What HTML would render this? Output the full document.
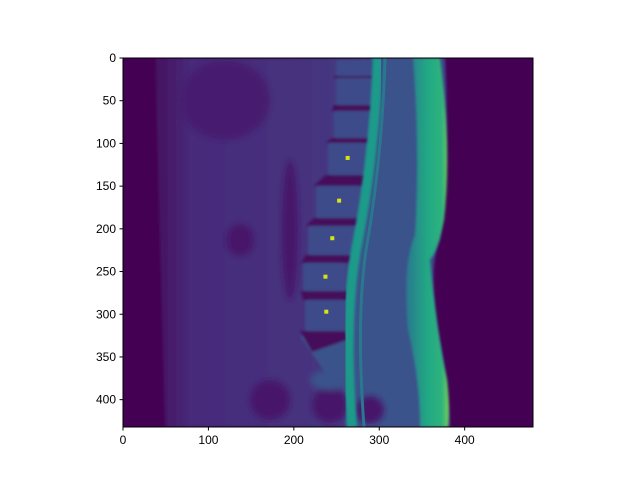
<!DOCTYPE html>
<html><head><meta charset="utf-8"><style>
body{margin:0;background:#fff;width:640px;height:480px;overflow:hidden;font-family:"Liberation Sans",sans-serif}
svg text{font-family:"Liberation Sans",sans-serif;font-size:12px;fill:#000}
</style></head><body>
<svg id="chart" width="640" height="480" viewBox="0 0 640 480">
<defs>
<clipPath id="clip"><rect x="123" y="58" width="410" height="369"/></clipPath>
<linearGradient id="bodyg" x1="0" x2="1" y1="0" y2="0">
<stop offset="0" stop-color="#45105e"/><stop offset="0.12" stop-color="#472a7a"/><stop offset="0.5" stop-color="#46327e"/><stop offset="0.75" stop-color="#433e85"/><stop offset="1" stop-color="#3e4a89"/>
</linearGradient>
<linearGradient id="sking" x1="0" x2="1" y1="0" y2="0">
<stop offset="0" stop-color="#2a788e"/><stop offset="0.5" stop-color="#22a884"/><stop offset="0.85" stop-color="#2fb47c"/><stop offset="1" stop-color="#7ad151"/>
</linearGradient>
<filter id="blur"><feGaussianBlur stdDeviation="3"/></filter>
<filter id="blur1"><feGaussianBlur stdDeviation="1.2"/></filter>
</defs>
<g clip-path="url(#clip)">
<rect x="123" y="58" width="410" height="369" fill="#440154"/>
<path d="M155,58 L445,58 Q450,150 440,240 Q428,265 438,330 Q448,380 450,427 L165,427 Z" fill="url(#bodyg)" filter="url(#blur1)"/>
<path d="M370,58 L420,58 Q434,150 424,240 Q410,265 420,330 Q430,380 436,427 L345,427 Q338,320 350,250 Q366,160 370,58 Z" fill="#3b528b" filter="url(#blur1)"/>
<g filter="url(#blur)">
<ellipse cx="225" cy="100" rx="45" ry="40" fill="#471d6f"/>
<ellipse cx="240" cy="240" rx="14" ry="16" fill="#46136a"/>
<ellipse cx="290" cy="230" rx="8" ry="70" fill="#46136a"/>
<ellipse cx="270" cy="400" rx="20" ry="20" fill="#46136a"/>
<ellipse cx="330" cy="405" rx="18" ry="18" fill="#46136a"/>
<ellipse cx="370" cy="410" rx="14" ry="14" fill="#46136a"/>
<ellipse cx="330" cy="380" rx="20" ry="10" fill="#3b528b"/>
</g>
<g id="verts" filter="url(#blur1)"></g>
<path d="M378,58 Q374,160 356,250 Q344,320 352,427" fill="none" stroke="#1f9a8a" stroke-width="10" filter="url(#blur1)"/>
<path d="M385,58 Q382,160 366,250 Q356,320 364,427" fill="none" stroke="#2a788e" stroke-width="3"/>
<path d="M413,58 L440,58 Q452,150 444,220 Q438,250 430,260 Q436,330 447,380 Q450,410 448,427 L420,427 Q420,380 408,330 Q402,265 415,235 Q420,150 413,58 Z" fill="url(#sking)" filter="url(#blur1)"/>
<g id="points"></g>
</g>
<g id="xaxis"></g>
<g id="yaxis"></g>
<rect x="123" y="58" width="410" height="369" fill="none" stroke="#000" stroke-width="1"/>
</svg>
<script>
const xTicks=[0,100,200,300,400];
const yTicks=[0,50,100,150,200,250,300,350,400];
const pointX=[263,253,245,237,238];
const pointY=[117,167,211,256,297];
const X0=123,Y0=58,S=410/480;
const sx=v=>X0+v*S, sy=v=>Y0+v*S;
const NS="http://www.w3.org/2000/svg";
function mk(t,a,p){const e=document.createElementNS(NS,t);for(const k in a)e.setAttribute(k,a[k]);p.appendChild(e);return e;}
// anatomical decoration (pixel geometry of vertebral bodies in the image)
const vb=[[336,60,370,76],[336,78,371,105],[334,111,370,138],[328,143,365,175],[316,186,361,218],[308,226,356,255],[303,263,346,291],[305,300,345,331]];
const verts=document.getElementById('verts');
mk('rect',{x:290,y:58,width:90,height:280,fill:'#440c5c'},verts).setAttribute('opacity','0.0');
vb.forEach((v,i)=>{
  if(i>0){const p=vb[i-1];
    const d=mk('polygon',{points:`${p[0]-2},${p[3]} ${p[2]+2},${p[3]} ${v[2]+2},${v[1]} ${v[0]-2},${v[1]}`,fill:'#45085b'},verts);
    
    }
  const r=mk('rect',{x:v[0],y:v[1],width:v[2]-v[0],height:v[3]-v[1],rx:3,fill:'#3e4c8a'},verts);
  
  
});
mk('polygon',{points:'300,336 345,336 360,380 330,380',fill:'#3b528b'},verts);
mk('polygon',{points:'300,331 345,331 347,340 312,352',fill:'#45085b'},verts);
const pts=document.getElementById('points');
for(let i=0;i<pointX.length;i++){
  const r=mk('rect',{x:sx(pointX[i])-2,y:sy(pointY[i])-2,width:4,height:4,fill:'#d8e219'},pts);
  
  
}
const xa=document.getElementById('xaxis');
xTicks.forEach(t=>{const x=sx(t);
  mk('line',{x1:x,x2:x,y1:427,y2:430.5,stroke:'#000'},xa);
  const tx=mk('text',{x:x,y:444,'text-anchor':'middle'},xa);tx.textContent=t;
  
  });
const ya=document.getElementById('yaxis');
yTicks.forEach(t=>{const y=sy(t);
  mk('line',{x1:119.5,x2:123,y1:y,y2:y,stroke:'#000'},ya);
  const tx=mk('text',{x:116,y:y+4,'text-anchor':'end'},ya);tx.textContent=t;
  
  });
</script>
</body></html>
